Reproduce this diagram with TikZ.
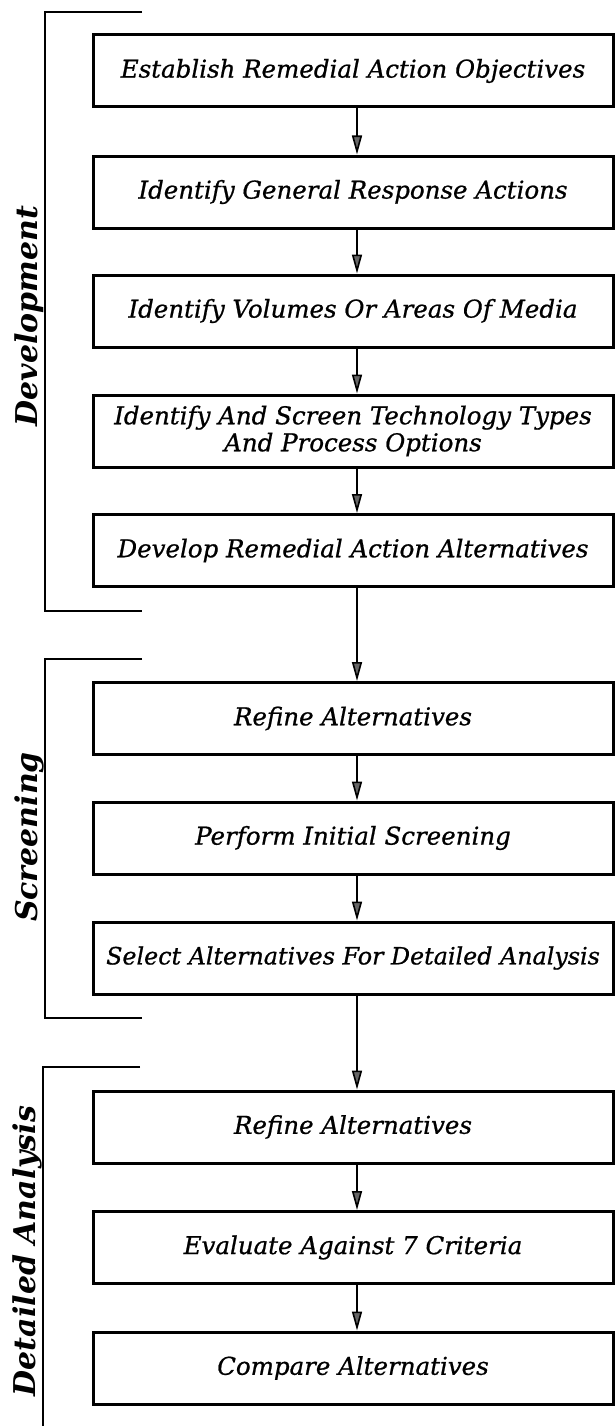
\documentclass[tikz,border=0pt]{standalone}
\usepackage{fontspec}
\setmainfont{DejaVu Serif}[ItalicFeatures={FakeBold=0.8}]
\usetikzlibrary{arrows.meta}
\tikzset{
  stepbox/.style={draw=black, line width=3pt, rectangle, minimum width=520pt, minimum height=72pt,
    inner sep=0pt, align=center, font=\fontsize{24.5}{27}\selectfont\itshape},
  flowarrow/.style={draw=black, line width=1.6pt, -{Triangle[length=19pt, width=10pt, fill=black!60]}},
  bracketline/.style={draw=black, line width=2.2pt},
  phaselabel/.style={rotate=90, anchor=base, inner sep=0pt, font=\fontsize{30}{32}\selectfont\bfseries\itshape}
}
\begin{document}
\begin{tikzpicture}[x=1pt, y=-1pt]
\useasboundingbox (0,0) rectangle (615,1426);
% boxes
\node[stepbox] (b1) at (353,71) {Establish Remedial Action Objectives};
\node[stepbox] (b2) at (353,192) {Identify General Response Actions};
\node[stepbox] (b3) at (353,311) {Identify Volumes Or Areas Of Media};
\node[stepbox] (b4) at (353,431) {Identify And Screen Technology Types\\And Process Options};
\node[stepbox] (b5) at (353,550.5) {Develop Remedial Action Alternatives};
\node[stepbox] (b6) at (353,718.5) {Refine Alternatives};
\node[stepbox] (b7) at (353,838) {Perform Initial Screening};
\node[stepbox, font=\fontsize{23.8}{27}\selectfont\itshape] (b8) at (353,958) {Select Alternatives For Detailed Analysis};
\node[stepbox] (b9) at (353,1127) {Refine Alternatives};
\node[stepbox] (b10) at (353,1247.5) {Evaluate Against 7 Criteria};
\node[stepbox] (b11) at (353,1368) {Compare Alternatives};
% arrows
\foreach \a/\b in {b1/b2,b2/b3,b3/b4,b4/b5,b5/b6,b6/b7,b7/b8,b8/b9,b9/b10,b10/b11}
  \draw[flowarrow] ([xshift=4pt]\a.south) -- ([xshift=4pt]\b.north);
% brackets
\coordinate (d1) at (142,12); \coordinate (d2) at (45,12);
\coordinate (d3) at (45,611); \coordinate (d4) at (142,611);
\draw[bracketline] (d1) -- (d2) -- (d3) -- (d4);
\coordinate (s1) at (142,659); \coordinate (s2) at (45,659);
\coordinate (s3) at (45,1018); \coordinate (s4) at (142,1018);
\draw[bracketline] (s1) -- (s2) -- (s3) -- (s4);
\coordinate (a1) at (140,1067); \coordinate (a2) at (43,1067);
\coordinate (a3) at (43,1430);
\draw[bracketline] (a1) -- (a2) -- (a3);
% labels
\node[phaselabel] (ldev) at (37,316) {Development};
\node[phaselabel] (lscr) at (37,837) {Screening};
\node[phaselabel] (lda) at (35,1251) {Detailed Analysis};
\end{tikzpicture}
\end{document}
